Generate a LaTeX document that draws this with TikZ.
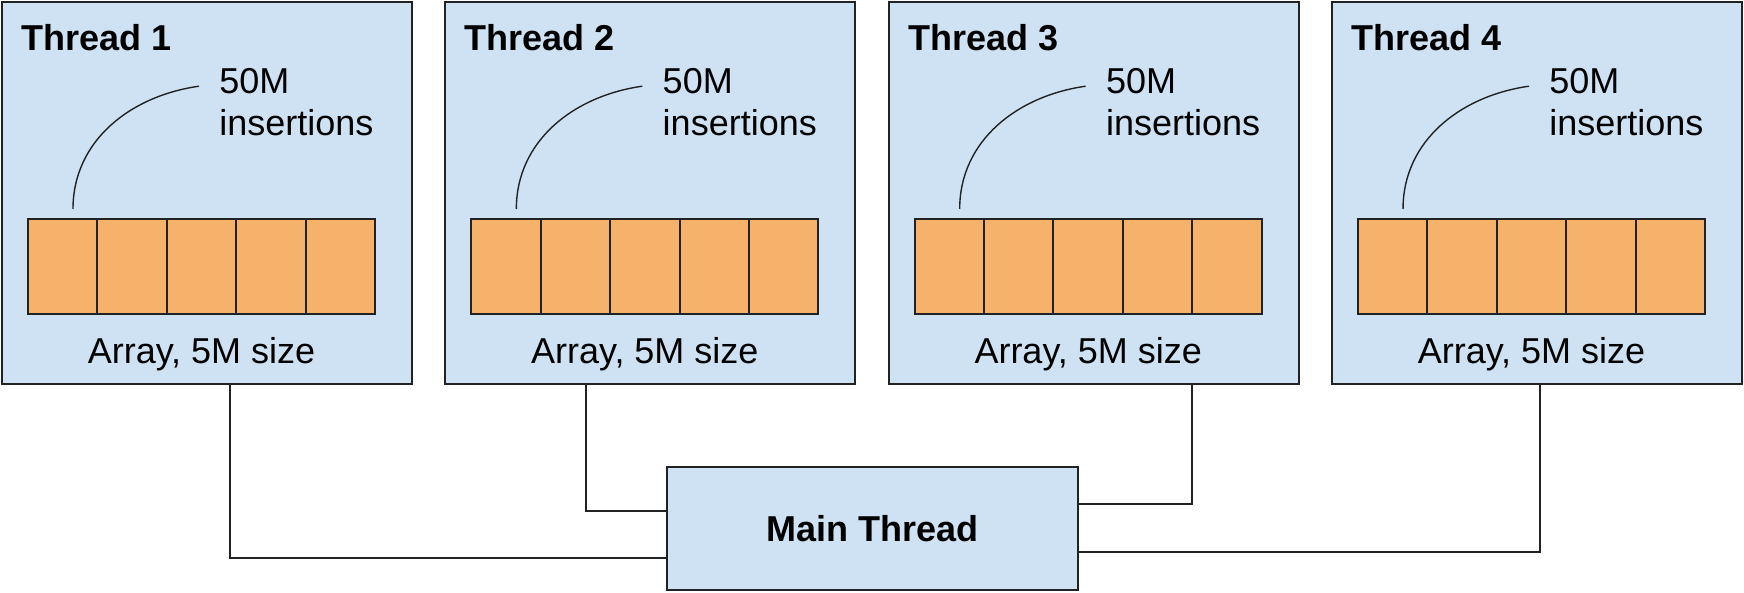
\documentclass[tikz,border=0pt]{standalone}
\usepackage{fontspec}
\setmainfont{Liberation Sans}
\usetikzlibrary{positioning}
\definecolor{threadblue}{HTML}{CFE2F3}
\definecolor{cellorange}{HTML}{F6B26B}
\definecolor{edgegray}{HTML}{222222}

\begin{document}
\begin{tikzpicture}[
  thread/.style={rectangle, draw=edgegray, line width=1pt, fill=threadblue, minimum width=205pt, minimum height=191pt},
  cell/.style={rectangle, draw=edgegray, line width=1pt, fill=cellorange, minimum width=34.7pt, minimum height=47.5pt, inner sep=0pt},
  wire/.style={draw=edgegray, line width=1pt},
  node distance=221.67pt,
  font=\fontsize{18pt}{21pt}\selectfont
]
\useasboundingbox (0,0) rectangle (872pt,-296.5pt);

\node[thread] (t1) at (103.5pt,-96.5pt) {};
\node[thread, right of=t1] (t2) {};
\node[thread, right of=t2] (t3) {};
\node[thread, right of=t3] (t4) {};

\foreach \i in {1,...,4} {
  \node[anchor=base west, inner sep=0pt, font=\fontsize{18pt}{21pt}\selectfont\bfseries] (title\i) at ([xshift=10pt,yshift=-25pt]t\i.north west) {Thread \i};
  \node[cell] (cell\i-1) at ([xshift=-72.15pt,yshift=-36.75pt]t\i.center) {};
  \node[cell, right of=cell\i-1, node distance=34.7pt] (cell\i-2) {};
  \node[cell, right of=cell\i-2, node distance=34.7pt] (cell\i-3) {};
  \node[cell, right of=cell\i-3, node distance=34.7pt] (cell\i-4) {};
  \node[cell, right of=cell\i-4, node distance=34.7pt] (cell\i-5) {};
  \node[anchor=north west, inner sep=0pt, align=left] (note\i) at ([xshift=109pt,yshift=-33.6pt]t\i.north west) {50M\\insertions};
  \draw[edgegray, line width=0.7pt] ([xshift=5.15pt,yshift=4.5pt]cell\i-1.north) to[out=90,in=188] ([xshift=-10pt,yshift=-9pt]note\i.north west);
  \node[anchor=base, inner sep=0pt] (size\i) at ([yshift=-24pt]cell\i-3.south) {Array, 5M size};
}

\node[thread, minimum width=205.5pt, minimum height=61.5pt, font=\fontsize{18pt}{21pt}\selectfont\bfseries] (main) at (436.25pt,-264.25pt) {Main Thread};

\draw[wire] ([xshift=11.5pt]t1.south) |- ([yshift=-14.75pt]main.west);
\draw[wire] ([xshift=-32.25pt]t2.south) |- ([yshift=8.75pt]main.west);
\draw[wire] ([xshift=49pt]t3.south) |- ([yshift=12.25pt]main.east);
\draw[wire] ([xshift=1.5pt]t4.south) |- ([yshift=-11.75pt]main.east);
\end{tikzpicture}
\end{document}
